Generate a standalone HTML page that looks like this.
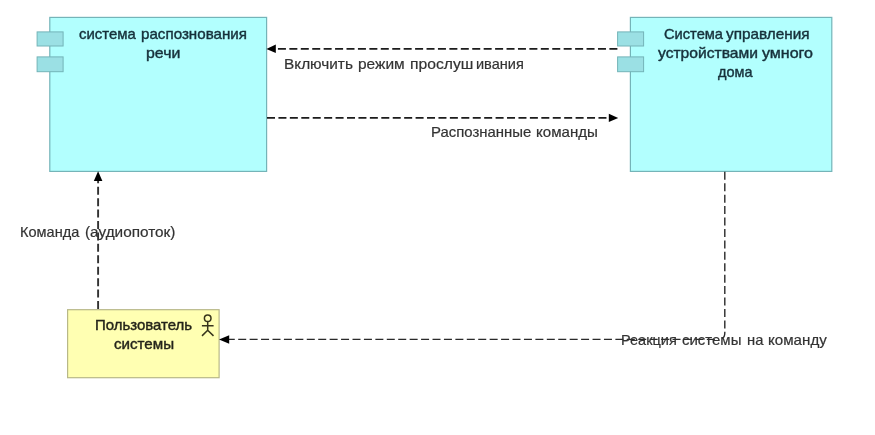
<!DOCTYPE html>
<html><head><meta charset="utf-8">
<style>
html,body{margin:0;padding:0;background:#fff;}
body{width:875px;height:435px;position:relative;overflow:hidden;font-family:"Liberation Sans",sans-serif;}
svg{position:absolute;left:0;top:0;}
.t{filter:blur(0.5px);position:absolute;white-space:nowrap;line-height:1;color:#222;transform-origin:0 0;}
.b{font-size:14.4px;color:#16303a;-webkit-text-stroke:0.4px #16303a;}
.y{color:#24241a;-webkit-text-stroke-color:#24241a;}
.l{font-size:14.6px;color:#333;-webkit-text-stroke:0.2px #333;}
</style></head><body>
<svg width="875" height="435" viewBox="0 0 875 435">
  <g filter="url(#bl)">
  <!-- boxes -->
  <rect x="49.8" y="17.4" width="216.8" height="154" fill="#b2fffe" stroke="#74b4b8" stroke-width="1.2"/>
  <rect x="630.4" y="17.4" width="201.4" height="154" fill="#b2fffe" stroke="#74b4b8" stroke-width="1.2"/>
  <rect x="67.6" y="309.7" width="151.5" height="68" fill="#ffffb2" stroke="#b8b888" stroke-width="1.2"/>
  <!-- component tabs -->
  <g fill="#9be0e4" stroke="#74b4b8" stroke-width="1">
    <rect x="37.1" y="31.9" width="26" height="14.1"/>
    <rect x="37.1" y="56.9" width="26" height="14.8"/>
    <rect x="617.6" y="31.9" width="26" height="14.1"/>
    <rect x="617.6" y="56.9" width="26" height="14.8"/>
  </g>
  <!-- connectors -->
  <g fill="none" stroke="#1e1e1e" stroke-width="1.6" stroke-dasharray="8 3.43">
    <path d="M617.4 48.9 H274"/>
    <path d="M267 117.9 H611"/>
    <path d="M98.1 309 V179" stroke="#333" stroke-width="1.9"/>
  </g>
  <g fill="none" stroke="#2a2a2a" stroke-width="1.4" stroke-dasharray="8 3.43">
    <path d="M724.8 171.8 V333 Q724.8 339.4 718.5 339.4"/>
    <path d="M718.5 339.4 H227" stroke-dashoffset="7.76"/>
  </g>
  <g fill="#000">
    <path d="M266.4 48.9 L275.8 44.6 V53.1 Z"/>
    <path d="M618.2 117.9 L608.8 113.7 V122.1 Z"/>
    <path d="M98.1 171.2 L93.8 180.9 H102.4 Z"/>
    <path d="M219 339.5 L229.2 335.2 V343.8 Z"/>
  </g>
  <!-- actor -->
  <g fill="none" stroke="#38361c" stroke-width="1.5">
    <circle cx="207.7" cy="318.3" r="3.3"/>
    <path d="M207.7 321.8 V330.2 M201.9 325.7 H213.6 M207.7 330.2 L202 335.9 M207.7 330.2 L213.5 335.9"/>
  </g>
  </g>
  <defs><filter id="bl" x="-5%" y="-5%" width="110%" height="110%"><feGaussianBlur stdDeviation="0.55"/></filter></defs>
</svg>
<div class="t b" id="w0" style="left:79.2px;top:27.4px;transform:scaleX(1.0371)">система</div>
<div class="t b" id="w1" style="left:140.5px;top:27.4px;transform:scaleX(1.0531)">распознования</div>
<div class="t b" id="w2" style="left:146.3px;top:46.0px;transform:scaleX(1.1037)">речи</div>
<div class="t b" id="w3" style="left:663.7px;top:27.4px;transform:scaleX(1.0178)">Система</div>
<div class="t b" id="w4" style="left:726.2px;top:27.4px;transform:scaleX(1.0637)">управления</div>
<div class="t b" id="w5" style="left:658.3px;top:46.0px;transform:scaleX(1.0860)">устройствами</div>
<div class="t b" id="w6" style="left:761.8px;top:46.0px;transform:scaleX(1.1129)">умного</div>
<div class="t b" id="w7" style="left:717.6px;top:65.0px;transform:scaleX(1.0055)">дома</div>
<div class="t l" id="w8" style="left:283.9px;top:56.6px;transform:scaleX(1.0524)">Включить</div>
<div class="t l" id="w9" style="left:357.7px;top:56.6px;transform:scaleX(1.0606)">режим</div>
<div class="t l" id="w10" style="left:410.4px;top:56.6px;transform:scaleX(1.0754)">прослуш</div>
<div class="t l" id="w11" style="left:475.5px;top:56.6px;transform:scaleX(0.9962)">ивания</div>
<div class="t l" id="w12" style="left:430.9px;top:125.1px;transform:scaleX(1.0223)">Распознанные</div>
<div class="t l" id="w13" style="left:535.8px;top:125.1px;transform:scaleX(1.0336)">команды</div>
<div class="t l" id="w14" style="left:20.1px;top:225.3px;transform:scaleX(0.9972)">Команда</div>
<div class="t l" id="w15" style="left:84.6px;top:225.3px;transform:scaleX(1.0512)">(аудиопоток)</div>
<div class="t b y" id="w16" style="left:94.6px;top:318.2px;transform:scaleX(1.0397)">Пользователь</div>
<div class="t b y" id="w17" style="left:113.5px;top:336.9px;transform:scaleX(1.0524)">системы</div>
<div class="t l" id="w18" style="left:621.2px;top:332.7px;transform:scaleX(0.9942)">Реакция</div>
<div class="t l" id="w19" style="left:681.9px;top:332.7px;transform:scaleX(1.0258)">системы</div>
<div class="t l" id="w20" style="left:746.9px;top:332.7px;transform:scaleX(1.0131)">на</div>
<div class="t l" id="w21" style="left:767.5px;top:332.7px;transform:scaleX(1.0373)">команду</div>
</body></html>
